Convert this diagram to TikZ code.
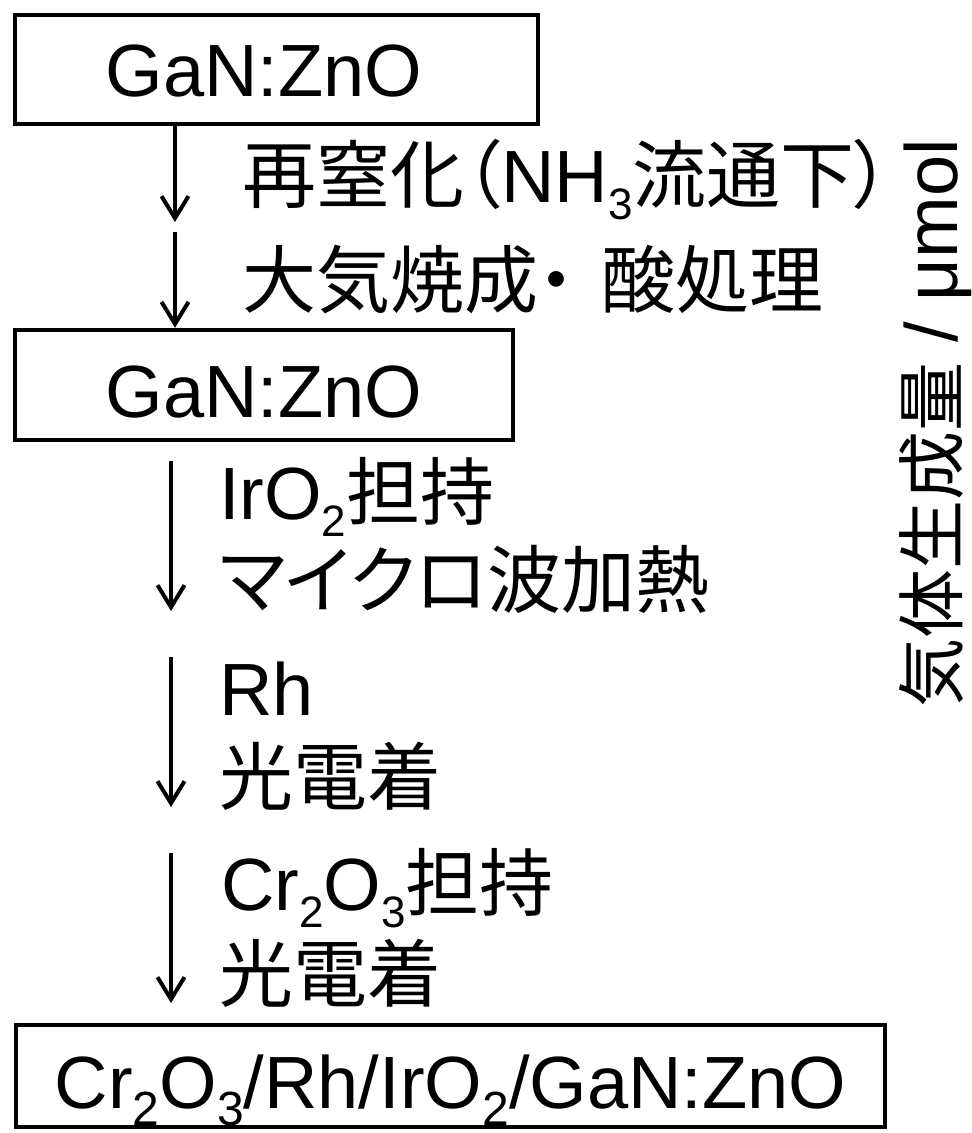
\documentclass[tikz,border=0pt]{standalone}
\usepackage{fontspec}
\setmainfont{Liberation Sans}
\newfontfamily\jp{Noto Sans CJK JP}
\newfontfamily\jpp[RawFeature=+palt]{Noto Sans CJK JP}
\usetikzlibrary{arrows.meta}
\newcommand\lowr[2][44]{\raisebox{-17pt}{\fontsize{#1}{#1}\selectfont #2}}
\begin{document}
\begin{tikzpicture}[x=1pt,y=-1pt,
  every node/.style={font=\fontsize{74}{80}\selectfont},
  box/.style={draw, line width=4.5pt, inner sep=0pt, text height=54pt, text depth=0pt},
  lbl/.style={anchor=base west, inner sep=0pt},
  arr/.style={line width=4pt, -{Straight Barb[length=22pt,width=27pt]}}]
\useasboundingbox (0,0) rectangle (972,1133);

% boxes
\node[box, minimum width=523pt, minimum height=109pt] (b1) at (276.5,69.5) {GaN:ZnO\kern25pt};
\node[box, minimum width=498pt, minimum height=110pt] (b2) at (264,385) {\raisebox{-5pt}{GaN:ZnO}};
\node[box, minimum width=869pt, minimum height=102pt] (b3) at (450.5,1076) {\raisebox{-5pt}{Cr\lowr[48]{2}O\lowr[48]{3}/Rh/IrO\lowr[48]{2}/GaN:ZnO}};

% arrow coordinates
\coordinate (xa) at (175,0);
\coordinate (a1e) at (175,222);
\coordinate (a2s) at (175,232);
\coordinate (a3s) at (171,461);
\coordinate (a3e) at (171,611);
\coordinate (a4s) at (171,657);
\coordinate (a4e) at (171,807);
\coordinate (a5s) at (171,853);
\coordinate (a5e) at (171,1003);

\draw[arr] (b1.south -| xa) -- (a1e);
\draw[arr] (a2s) -- (b2.north -| xa);
\draw[arr] (a3s) -- (a3e);
\draw[arr] (a4s) -- (a4e);
\draw[arr] (a5s) -- (a5e);

% labels
\node[lbl] (l1) at (242,202) {{\jpp 再窒化（}NH\lowr{3}{\jpp 流通下）}};
\node[lbl] (l2) at (242,307) {{\jpp 大気焼成・\hspace{26pt}酸処理}};
\node[lbl] (l3) at (219,519) {IrO\lowr{2}{\jpp 担持}};
\node[lbl] (l4) at (219,607) {{\jpp マイクロ波加熱}};
\node[lbl] (l5) at (219,715) {Rh};
\node[lbl] (l6) at (219,804) {{\jpp 光電着}};
\node[lbl] (l7) at (221,910) {Cr\lowr{2}O\lowr{3}{\jpp 担持}};
\node[lbl] (l8) at (219,1001) {{\jpp 光電着}};

% axis label
\node[lbl, rotate=90] (yl) at (957,708) {{\fontsize{69}{70}\selectfont\jpp 気体生成量} / μmol};
\end{tikzpicture}
\end{document}
